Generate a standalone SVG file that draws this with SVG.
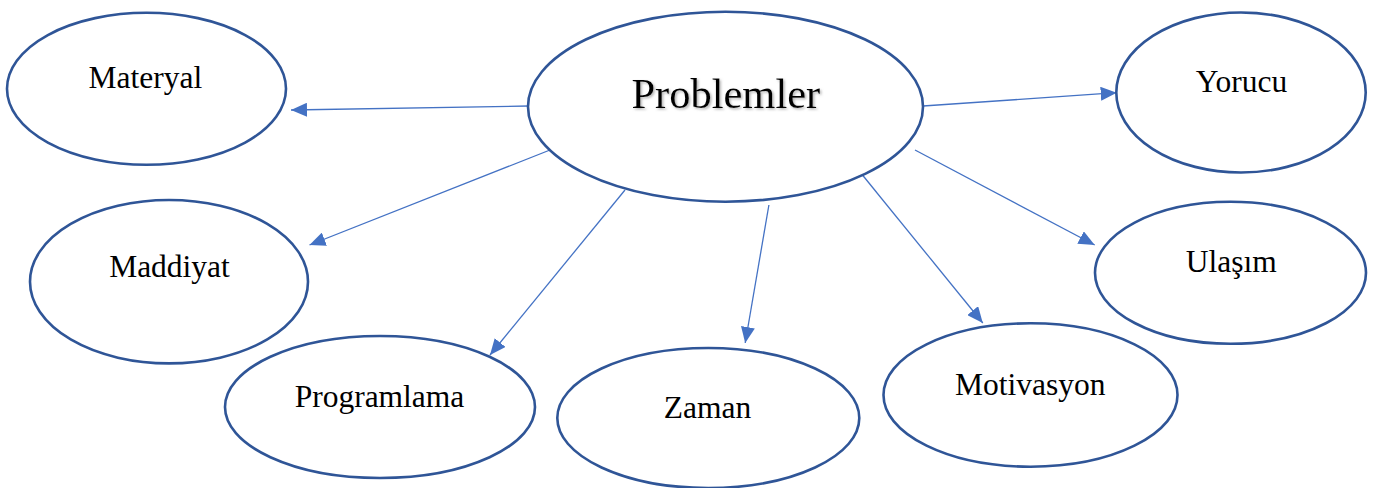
<svg xmlns="http://www.w3.org/2000/svg" width="1379" height="488" viewBox="0 0 1379 488">
<style>
.node{fill:#fff;stroke:#2F5597;stroke-width:2.6}
.lbl{font-family:"Liberation Serif","Times New Roman",serif;font-size:31.5px;fill:#000;text-anchor:middle}
.big{font-size:42.5px}
.edge{stroke:#4472C4;stroke-width:1.3;fill:none}
</style>
<defs>
<marker id="ah" markerUnits="userSpaceOnUse" markerWidth="16" markerHeight="14" refX="16" refY="7" orient="auto">
<path d="M0,0 L16,7 L0,14 z" fill="#4472C4"/>
</marker>
<filter id="sh" x="-10%" y="-30%" width="120%" height="160%">
<feDropShadow dx="1.5" dy="1.5" stdDeviation="1" flood-color="#808080" flood-opacity="0.6"/>
</filter>
</defs>
<rect width="1379" height="488" fill="#fff"/>
<g id="connectors">
<line class="edge" x1="528.6" y1="106" x2="291" y2="110" marker-end="url(#ah)"/>
<line class="edge" x1="550" y1="150" x2="309.5" y2="245" marker-end="url(#ah)"/>
<line class="edge" x1="625" y1="190" x2="490" y2="355" marker-end="url(#ah)"/>
<line class="edge" x1="768.9" y1="205" x2="745.2" y2="343" marker-end="url(#ah)"/>
<line class="edge" x1="860" y1="172" x2="982.8" y2="323" marker-end="url(#ah)"/>
<line class="edge" x1="915" y1="150" x2="1094.7" y2="245" marker-end="url(#ah)"/>
<line class="edge" x1="923" y1="106" x2="1116.7" y2="92.7" marker-end="url(#ah)"/>
</g>
<g id="problemler">
<ellipse class="node" cx="725.5" cy="106.7" rx="197.5" ry="95"/>
<text class="lbl big" x="725.8" y="108.3" filter="url(#sh)">Problemler</text>
</g>
<g id="materyal">
<ellipse class="node" cx="146.5" cy="88.8" rx="139.5" ry="76"/>
<text class="lbl" x="145.3" y="88.3">Materyal</text>
</g>
<g id="maddiyat">
<ellipse class="node" cx="169" cy="281.7" rx="139" ry="81.7"/>
<text class="lbl" x="169.5" y="277.3">Maddiyat</text>
</g>
<g id="programlama">
<ellipse class="node" cx="380" cy="407" rx="155" ry="71"/>
<text class="lbl" x="379.5" y="406.7">Programlama</text>
</g>
<g id="zaman">
<ellipse class="node" cx="708.3" cy="418" rx="151" ry="70"/>
<text class="lbl" x="707.5" y="418.3">Zaman</text>
</g>
<g id="motivasyon">
<ellipse class="node" cx="1030.5" cy="395" rx="147" ry="71.7"/>
<text class="lbl" x="1030.3" y="395">Motivasyon</text>
</g>
<g id="ulasim">
<ellipse class="node" cx="1230.5" cy="272.8" rx="135.5" ry="71"/>
<text class="lbl" x="1231.3" y="272.3">Ulaşım</text>
</g>
<g id="yorucu">
<ellipse class="node" cx="1241" cy="92.5" rx="124.7" ry="80"/>
<text class="lbl" x="1241.5" y="91.7">Yorucu</text>
</g>
</svg>
